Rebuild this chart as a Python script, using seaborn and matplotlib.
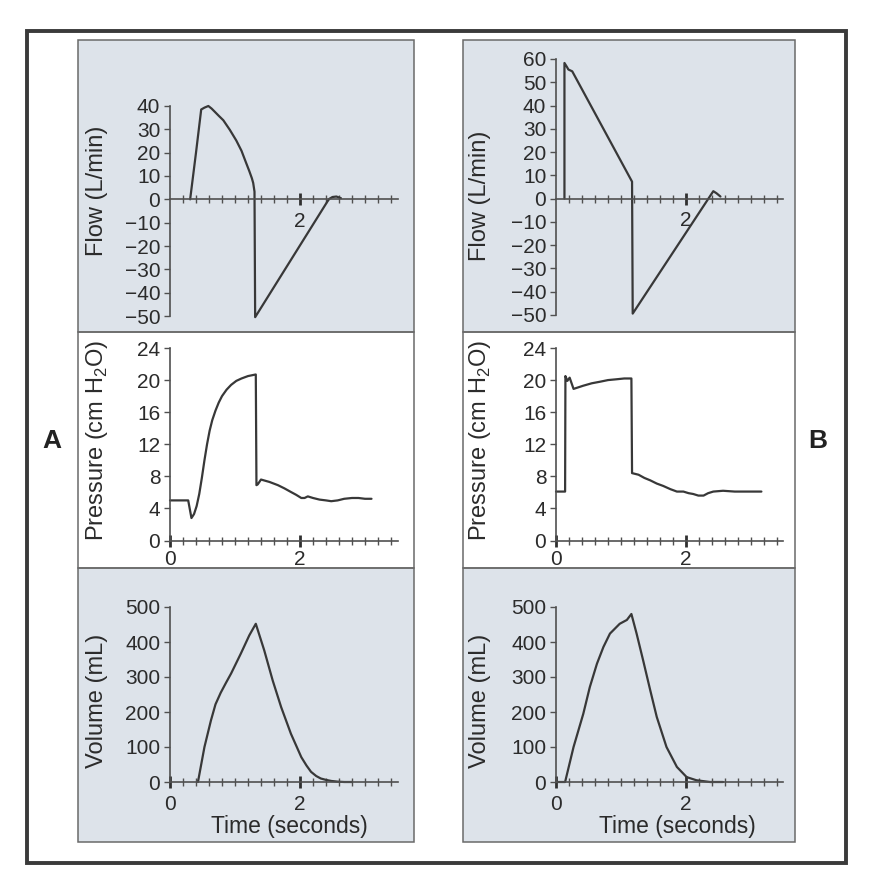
import numpy as np
import pandas as pd
import matplotlib
matplotlib.use("Agg")
import matplotlib.pyplot as plt
from matplotlib.patches import Rectangle
import seaborn as sns

# ---------------- data ----------------
flowA_t = [0.31, 0.40, 0.48, 0.53, 0.59, 0.64, 0.69, 0.75, 0.82, 0.92, 1.02, 1.10, 1.17, 1.22, 1.26, 1.28, 1.30, 1.31,
           2.42, 2.45, 2.50, 2.56, 2.63]
flowA_v = [0, 20, 38.5, 39.3, 40, 38.9, 37.5, 35.8, 33.9, 29.8, 25.2, 20.8, 15.7, 12.1, 9.0, 7.0, 3.3, -50.5,
           -1.0, 0.2, 1.0, 1.2, 0.5]

presA_t = [0, 0.28, 0.33, 0.37, 0.41, 0.45, 0.49, 0.53, 0.57, 0.61, 0.65, 0.70, 0.75, 0.80, 0.87, 0.94, 1.02, 1.10,
           1.20, 1.32, 1.33, 1.35, 1.40, 1.53, 1.66, 1.76, 1.86, 1.94, 2.02, 2.07, 2.12, 2.20, 2.30, 2.40, 2.48,
           2.58, 2.68, 2.80, 2.90, 3.00, 3.10]
presA_p = [5, 5, 2.8, 3.3, 4.3, 5.8, 7.8, 10.0, 12.0, 13.7, 15.0, 16.2, 17.2, 18.0, 18.8, 19.4, 19.9, 20.2,
           20.5, 20.7, 6.9, 7.0, 7.6, 7.3, 6.9, 6.5, 6.05, 5.7, 5.3, 5.3, 5.5, 5.3, 5.1, 5.0, 4.9,
           5.0, 5.2, 5.3, 5.3, 5.2, 5.2]

volA_t = [0.43, 0.53, 0.63, 0.70, 0.78, 0.86, 0.94, 1.09, 1.22, 1.32, 1.45, 1.58, 1.71, 1.86, 2.02, 2.10, 2.17, 2.25,
          2.32, 2.40, 2.48, 2.58, 2.68, 2.80]
volA_v = [0, 100, 176, 222, 255, 283, 310, 367, 419, 452, 376, 290, 214, 138, 71, 47, 29, 17,
          10, 6, 3, 1, 0, 0]

flowB_t = [0.13, 0.13, 0.17, 0.19, 0.25, 1.17, 1.18, 2.42, 2.47, 2.53]
flowB_v = [0, 58.3, 56.5, 55.5, 54.7, 7.3, -49.4, 3.2, 2.3, 0.9]

presB_t = [0, 0.14, 0.145, 0.175, 0.21, 0.27, 0.42, 0.55, 0.68, 0.80, 0.93, 1.05, 1.16, 1.17, 1.22, 1.27, 1.36, 1.45, 1.55,
           1.65, 1.76, 1.86, 1.96, 2.04, 2.11, 2.19, 2.27, 2.34, 2.42, 2.57, 2.75, 2.98, 3.16]
presB_p = [6.1, 6.1, 20.5, 19.9, 20.3, 18.9, 19.3, 19.6, 19.8, 20.0, 20.1, 20.2, 20.2, 8.4, 8.3, 8.2, 7.8, 7.5, 7.1,
           6.8, 6.4, 6.1, 6.1, 5.9, 5.8, 5.6, 5.6, 5.9, 6.1, 6.2, 6.1, 6.1, 6.1]

volB_t = [0, 0.14, 0.27, 0.42, 0.52, 0.63, 0.73, 0.83, 0.98, 1.09, 1.16, 1.24, 1.34, 1.45, 1.55, 1.70, 1.86, 2.01, 2.16, 2.37, 2.57]
volB_v = [0, 0, 100, 195, 271, 338, 386, 424, 452, 463, 480, 424, 348, 262, 186, 100, 43, 14, 5, 0, 0]

flowA_yticks = [40, 30, 20, 10, 0, -10, -20, -30, -40, -50]
flowB_yticks = [60, 50, 40, 30, 20, 10, 0, -10, -20, -30, -40, -50]
pres_yticks = [0, 4, 8, 12, 16, 20, 24]
vol_yticks = [0, 100, 200, 300, 400, 500]

flow_label = "Flow (L/min)"
pres_label = r"Pressure (cm H$_{\mathregular{2}}$O)"
vol_label = "Volume (mL)"
time_label = "Time (seconds)"
panel_letters = ["A", "B"]

# ---------------- style ----------------
sns.set_style("white")
plt.rcParams["font.family"] = ["Liberation Sans", "DejaVu Sans"]
plt.rcParams["mathtext.fontset"] = "custom"
plt.rcParams["mathtext.rm"] = "Liberation Sans"
plt.rcParams["axes.unicode_minus"] = True

W, H = 873, 883
fig = plt.figure(figsize=(W / 100, H / 100), dpi=100)
fig.patch.set_facecolor("white")

INK = "#383838"
AXC = "#505050"
TXT = "#2b2b2b"
GRAY_BG = "#dde3ea"


def fx(x):
    return x / W


def fy(y):
    return 1 - y / H


def rect_px(x0, y0, x1, y1, **kw):
    r = Rectangle((fx(x0), fy(y1)), fx(x1) - fx(x0), fy(y0) - fy(y1), transform=fig.transFigure, **kw)
    fig.patches.append(r)


# outer frame
rect_px(27, 31, 846, 863, facecolor="none", edgecolor="#3a3a3a", linewidth=2.8, zorder=-2)
# column panels
for (x0, x1) in [(78, 414), (463, 795)]:
    rect_px(x0, 40, x1, 332, facecolor=GRAY_BG, edgecolor="none", zorder=-2)
    rect_px(x0, 332, x1, 568, facecolor="white", edgecolor="none", zorder=-2)
    rect_px(x0, 568, x1, 842, facecolor=GRAY_BG, edgecolor="none", zorder=-2)
    for (y0, y1) in [(40, 332), (332, 568), (568, 842)]:
        rect_px(x0, y0, x1, y1, facecolor="none", edgecolor="#6a6a6a", linewidth=1.1, zorder=-1)


def make_ax(left, top, bottom, width=227.5):
    ax = fig.add_axes([fx(left), fy(bottom), width / W, (bottom - top) / H])
    ax.set_zorder(2)
    ax.set_facecolor("none")
    ax.patch.set_alpha(0)
    for s in ["top", "right"]:
        ax.spines[s].set_visible(False)
    for s in ["left", "bottom"]:
        ax.spines[s].set_color(AXC)
        ax.spines[s].set_linewidth(1.2)
    ax.set_xlim(0, 3.5)
    return ax


def style_ticks(ax, yticks, ylim, xpad, show_zero=True):
    ax.set_ylim(*ylim)
    ax.set_yticks(yticks)
    ax.set_yticklabels([f"{v}".replace("-", "\u2212") for v in yticks])
    ax.tick_params(axis="y", left=True, direction="out", length=4, width=1.0, color=AXC,
                   labelsize=15, labelcolor=TXT, pad=3)
    major = [0, 2] if show_zero else [2]
    ax.set_xticks(major)
    ax.set_xticklabels([str(m) for m in major])
    ax.set_xticks([round(0.2 * i, 1) for i in range(1, 18) if i != 10], minor=True)
    ax.tick_params(axis="x", which="major", bottom=True, direction="inout", length=8, width=2.0, color="#303030",
                   labelsize=15, labelcolor=TXT, pad=xpad)
    ax.tick_params(axis="x", which="minor", bottom=True, direction="inout", length=6, width=1.0, color=AXC)
    ax.set_xlabel("")
    ax.set_ylabel("")


def draw(ax, t, v):
    df = pd.DataFrame({"t": t, "v": v})
    sns.lineplot(data=df, x="t", y="v", ax=ax, sort=False, estimator=None,
                 color=INK, linewidth=1.6)
    for ln in ax.lines:
        ln.set_clip_on(False)


cols = [
    dict(xl=170, flow=(flowA_t, flowA_v), ftop=106, fbot=316, fticks=flowA_yticks, flim=(-50, 40),
         pres=(presA_t, presA_p), vol=(volA_t, volA_v), lab_x=97, time_x=289, fl_y=191),
    dict(xl=556, flow=(flowB_t, flowB_v), ftop=59, fbot=315, fticks=flowB_yticks, flim=(-50, 60),
         pres=(presB_t, presB_p), vol=(volB_t, volB_v), lab_x=480, time_x=677, fl_y=196),
]

for c in cols:
    # flow
    axf = make_ax(c["xl"], c["ftop"], c["fbot"])
    draw(axf, *c["flow"])
    style_ticks(axf, c["fticks"], c["flim"], xpad=5, show_zero=False)
    axf.spines["bottom"].set_position(("data", 0))
    # pressure
    axp = make_ax(c["xl"], 348, 540.5)
    draw(axp, *c["pres"])
    style_ticks(axp, pres_yticks, (0, 24), xpad=3)
    # volume
    axv = make_ax(c["xl"], 607, 782)
    draw(axv, *c["vol"])
    style_ticks(axv, vol_yticks, (0, 500), xpad=5)

    fig.text(fx(c["lab_x"]), fy(c["fl_y"]), flow_label, rotation=90, ha="center", va="center",
             fontsize=17, color=TXT)
    fig.text(fx(c["lab_x"]), fy(440), pres_label, rotation=90, ha="center", va="center",
             fontsize=17, color=TXT)
    fig.text(fx(c["lab_x"]), fy(701), vol_label, rotation=90, ha="center", va="center",
             fontsize=17, color=TXT)
    fig.text(fx(c["time_x"]), fy(826), time_label, ha="center", va="center",
             fontsize=16.5, color=TXT)

fig.text(fx(52), fy(441), panel_letters[0], ha="center", va="center", fontsize=19,
         fontweight="bold", color="#222222")
fig.text(fx(818), fy(441), panel_letters[1], ha="center", va="center", fontsize=19,
         fontweight="bold", color="#222222")

fig.savefig("out.png", dpi=100, facecolor="white")
